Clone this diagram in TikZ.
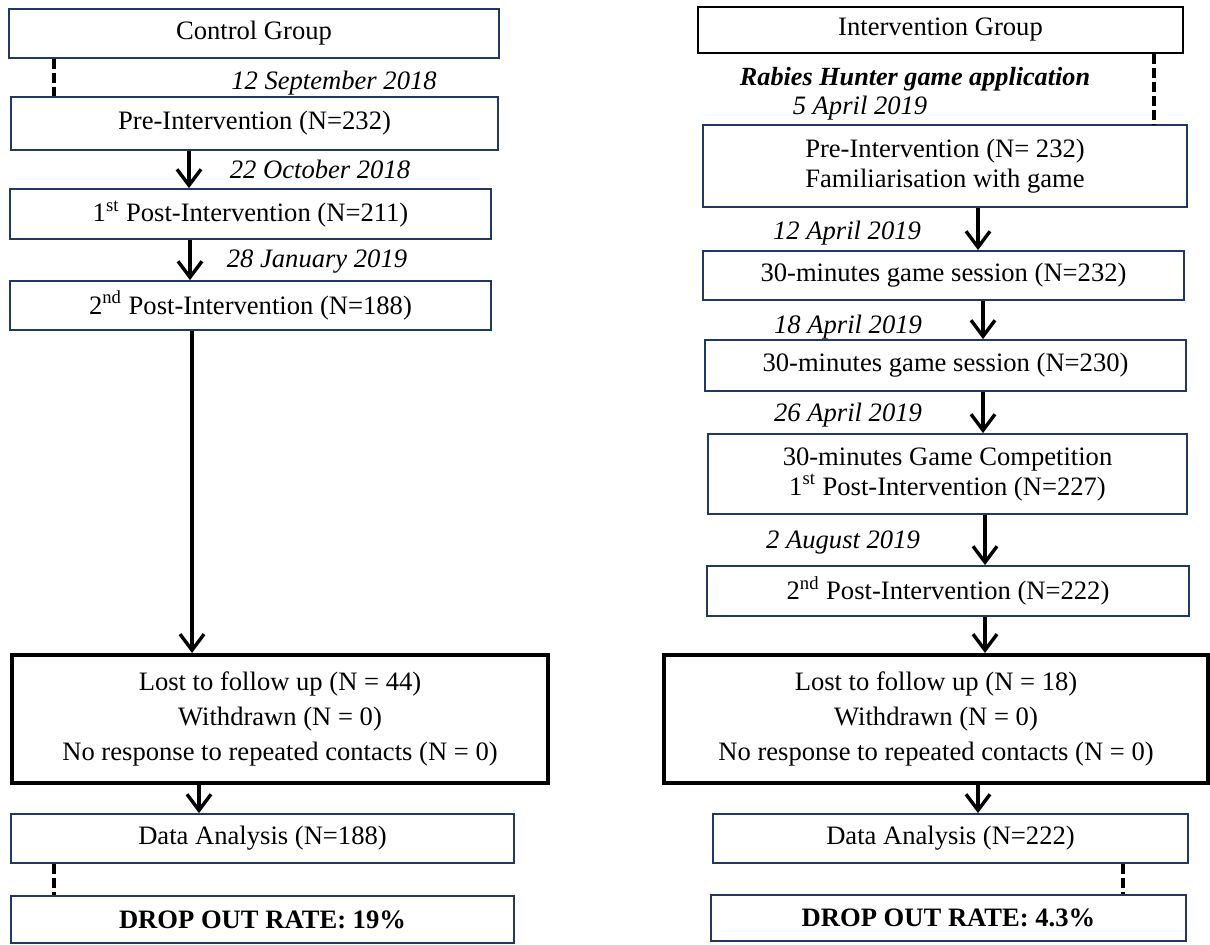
\documentclass[tikz,border=0pt]{standalone}
\usepackage{fontspec}
\setmainfont{Liberation Serif}
\usetikzlibrary{arrows.meta}
\definecolor{navy}{RGB}{31,56,100}
\begin{document}
\begin{tikzpicture}[x=0.5pt,y=-0.5pt,
  box/.style={draw=navy,line width=0.9pt,inner sep=0pt,align=center,
    font=\fontsize{13.3}{15}\selectfont},
  blackbox/.style={box,draw=black},
  lostbox/.style={draw=black,line width=2pt,inner sep=0pt,align=center,
    font=\fontsize{13.3}{17.5}\selectfont},
  datelbl/.style={anchor=base,inner sep=0pt,font=\fontsize{13.3}{15}\selectfont\itshape},
  arr/.style={line width=1.7pt,-{Straight Barb[length=8pt,width=12pt,line width=1.7pt]}},
  dashline/.style={line width=2pt,dash pattern=on 5pt off 2pt}]
\useasboundingbox (0,0) rectangle (1210,945);
% left column
\node[box,minimum width=245pt,minimum height=24.5pt] (cg) at (254,33.5) {Control Group};
\node[box,minimum width=243.5pt,minimum height=26.5pt] (pre) at (254.5,123.5) {Pre-Intervention (N=232)};
\node[box,minimum width=240.5pt,minimum height=25pt] (p1) at (250.5,214) {1\textsuperscript{st} Post-Intervention (N=211)};
\node[box,minimum width=240.5pt,minimum height=24.5pt] (p2) at (250.5,305.5) {2\textsuperscript{nd} Post-Intervention (N=188)};
\node[lostbox,minimum width=268pt,minimum height=64pt] (lost) at (280,719) {Lost to follow up (N = 44)\\Withdrawn (N = 0)\\No response to repeated contacts (N = 0)};
\node[box,minimum width=251.5pt,minimum height=24.5pt] (da) at (262.5,838.5) {Data Analysis (N=188)};
\node[box,minimum width=251.5pt,minimum height=23.5pt] (dor) at (262.5,919.5) {\bfseries DROP OUT RATE: 19\%};
\node[datelbl] (d1) at (334,90) {12 September 2018};
\node[datelbl] (d2) at (320,179) {22 October 2018};
\node[datelbl] (d3) at (317,268) {28 January 2019};
\draw[dashline] (54,0 |- cg.south) -- (54,0 |- pre.north);
\draw[arr] (189,0 |- pre.south) -- (189,0 |- p1.north);
\draw[arr] (190,0 |- p1.south) -- (190,0 |- p2.north);
\draw[arr] (192,0 |- p2.south) -- (192,0 |- lost.north);
\draw[arr] (199,0 |- lost.south) -- (199,0 |- da.north);
\draw[dashline] (54,0 |- da.south) -- (54,0 |- dor.north);
% right column
\node[blackbox,minimum width=242.5pt,minimum height=23pt] (ig) at (940.5,30) {Intervention Group};
\node[box,minimum width=242pt,minimum height=41pt] (rpre) at (945,166) {Pre-Intervention (N= 232)\\Familiarisation with game};
\node[box,minimum width=240.5pt,minimum height=24.5pt] (s1) at (943.5,275.5) {30-minutes game session (N=232)};
\node[box,minimum width=240.5pt,minimum height=25.5pt] (s2) at (945.5,365.5) {30-minutes game session (N=230)};
\node[box,minimum width=239.5pt,minimum height=40pt] (comp) at (947.5,474) {30-minutes Game Competition\\1\textsuperscript{st} Post-Intervention (N=227)};
\node[box,minimum width=241pt,minimum height=25pt] (rp2) at (948,591) {2\textsuperscript{nd} Post-Intervention (N=222)};
\node[lostbox,minimum width=272pt,minimum height=64pt] (rlost) at (936,719) {Lost to follow up (N = 18)\\Withdrawn (N = 0)\\No response to repeated contacts (N = 0)};
\node[box,minimum width=237.5pt,minimum height=24.5pt] (rda) at (950.5,838.5) {Data Analysis (N=222)};
\node[box,minimum width=237.5pt,minimum height=23pt] (rdor) at (948.5,918) {\bfseries DROP OUT RATE: 4.3\%};
\node[datelbl,font=\fontsize{13.1}{15}\selectfont\bfseries\itshape] (rh) at (915,86) {Rabies Hunter game application};
\node[datelbl] (r1) at (860,115) {5 April 2019};
\node[datelbl] (r2) at (847,240) {12 April 2019};
\node[datelbl] (r3) at (848,334) {18 April 2019};
\node[datelbl] (r4) at (848,422) {26 April 2019};
\node[datelbl] (r5) at (843,549) {2 August 2019};
\draw[dashline] (1154,0 |- ig.south) -- (1154,0 |- rpre.north);
\draw[arr] (978,0 |- rpre.south) -- (978,0 |- s1.north);
\draw[arr] (983,0 |- s1.south) -- (983,0 |- s2.north);
\draw[arr] (983,0 |- s2.south) -- (983,0 |- comp.north);
\draw[arr] (985,0 |- comp.south) -- (985,0 |- rp2.north);
\draw[arr] (985,0 |- rp2.south) -- (985,0 |- rlost.north);
\draw[arr] (978,0 |- rlost.south) -- (978,0 |- rda.north);
\draw[dashline] (1123,0 |- rda.south) -- (1123,0 |- rdor.north);
\end{tikzpicture}
\end{document}
